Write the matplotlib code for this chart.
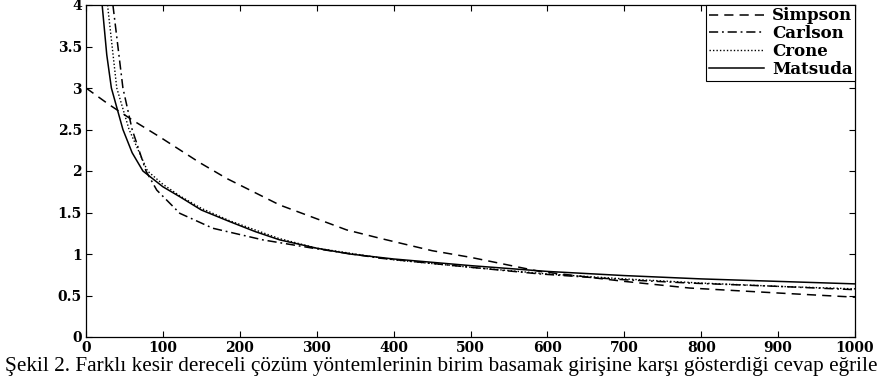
# Step response curves of fractional order approximation methods

import matplotlib.pyplot as plt
import numpy as np

# --- Data ---
simpson_x = [0, 30, 61, 96, 148, 183, 252, 339, 382, 450, 500, 590, 700, 785, 900, 1000]
simpson_y = [3.0, 2.8, 2.61, 2.41, 2.10, 1.91, 1.59, 1.29, 1.19, 1.04, 0.96, 0.79, 0.67, 0.59, 0.53, 0.48]

carlson_x = [35, 48, 60, 78, 92, 122, 165, 230, 295, 382, 500, 590, 700, 785, 900, 1000]
carlson_y = [4.0, 3.0, 2.5, 2.0, 1.77, 1.49, 1.31, 1.17, 1.07, 0.95, 0.84, 0.76, 0.69, 0.65, 0.61, 0.57]

crone_x = [28, 40, 56, 80, 100, 122, 150, 187, 250, 300, 400, 500, 600, 700, 800, 900, 1000]
crone_y = [4.0, 3.0, 2.5, 2.0, 1.84, 1.70, 1.55, 1.40, 1.19, 1.07, 0.93, 0.84, 0.76, 0.70, 0.65, 0.61, 0.58]

matsuda_x = [21, 27, 33, 42, 48, 60, 74, 100, 122, 150, 187, 220, 252, 300, 343, 400, 500, 600, 700, 800, 900, 1000]
matsuda_y = [4.0, 3.4, 3.0, 2.7, 2.5, 2.22, 2.0, 1.81, 1.69, 1.53, 1.39, 1.27, 1.17, 1.07, 1.00, 0.94, 0.86, 0.79, 0.74, 0.70, 0.67, 0.64]

xticks = np.arange(0, 1001, 100)
yticks = [0, 0.5, 1, 1.5, 2, 2.5, 3, 3.5, 4]
ytick_labels = ['0', '0.5', '1', '1.5', '2', '2.5', '3', '3.5', '4']

# caption is cut at the right edge in the original
caption = ('Şekil 2. Farklı kesir dereceli çözüm yöntemlerinin birim basamak '
           'girişine karşı gösterdiği cevap eğrile')

# --- Plot ---
fig = plt.figure(figsize=(8.81, 3.78), dpi=100)
ax = fig.add_axes([86/881, 1 - 337/378, (855 - 86)/881, (337 - 5)/378])

ax.plot(simpson_x, simpson_y, color='black', lw=1.1, dashes=(6, 4), label='Simpson')
ax.plot(carlson_x, carlson_y, color='black', lw=1.1, dashes=(6, 2.5, 1.2, 2.5), label='Carlson')
ax.plot(crone_x, crone_y, color='black', lw=1.0, dashes=(1, 1.5), label='Crone')
ax.plot(matsuda_x, matsuda_y, color='black', lw=1.1, label='Matsuda')

ax.set_xlim(0, 1000)
ax.set_ylim(0, 4)
ax.set_xticks(xticks)
ax.set_yticks(yticks)
ax.set_yticklabels(ytick_labels)
ax.tick_params(direction='in', length=4, width=0.8, top=True, right=True,
               labelsize=10, pad=3, colors='black')
for lab in ax.get_xticklabels() + ax.get_yticklabels():
    lab.set_fontfamily('DejaVu Serif')
    lab.set_fontweight('bold')
for s in ax.spines.values():
    s.set_linewidth(0.9)

leg = ax.legend(loc='upper right', prop={'family': 'DejaVu Serif', 'weight': 'bold', 'size': 12},
                handlelength=3.3, handletextpad=0.5, borderpad=0.15, labelspacing=0.05,
                borderaxespad=0, fancybox=False, framealpha=1)
leg.get_frame().set_edgecolor('black')
leg.get_frame().set_linewidth(0.8)

t = fig.text(5/881, 1 - 371/378, caption, family='Liberation Serif', fontsize=14,
             ha='left', va='baseline')
renderer = fig.canvas.get_renderer()
w = t.get_window_extent(renderer).width
t.set_fontsize(14 * 874 / w)

plt.savefig('out.png', dpi=100)
plt.close()
